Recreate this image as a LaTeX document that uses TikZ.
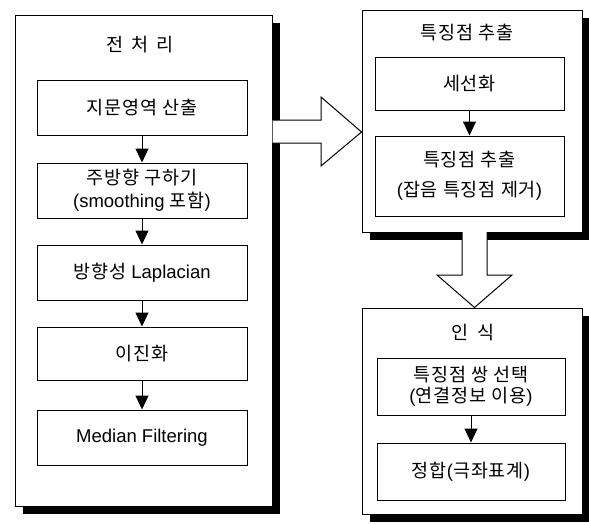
\documentclass[tikz,border=0pt]{standalone}
\usepackage{fontspec}
\setmainfont{Liberation Sans}
\newfontfamily\ko[LetterSpace=5]{Noto Sans CJK KR}
\usetikzlibrary{shadows,arrows.meta,calc}
\begin{document}
\begin{tikzpicture}[x=1pt,y=-1pt,
  outerbox/.style={draw,line width=1pt,fill=white,inner sep=0pt,
    drop shadow={fill=black,opacity=1,shadow xshift=7.5pt,shadow yshift=-7.5pt}},
  innerbox/.style={draw,line width=1pt,fill=white,inner sep=0pt,align=center,
    font=\fontsize{18.5}{23}\selectfont},
  titletext/.style={inner sep=0pt,font=\fontsize{18.5}{22}\selectfont},
  arr/.style={line width=1pt,-{Triangle[length=14pt,width=13pt]}},
  bigarrow/.style={draw,line width=1pt,fill=white,line join=miter}]
\useasboundingbox (0,0) rectangle (589,523);
% outer boxes
\node[outerbox,minimum width=257pt,minimum height=491pt] (L) at (143.5,260.5) {};
\node[outerbox,minimum width=220pt,minimum height=222pt] (T) at (472,121) {};
\node[outerbox,minimum width=220pt,minimum height=206pt] (B) at (472,411) {};
% big arrows
\draw[bigarrow] (L.east |- 0,120) -- (321,120) -- (321,97) -- (T.west |- 0,132)
  -- (321,166) -- (321,143) -- (L.east |- 0,143);
\draw[bigarrow] (462,232) -- (462,275) -- (437,275) -- (B.north -| 474.5,0)
  -- (512,275) -- (487,275) -- (487,232);
% titles
\node[titletext] (Lt) at (140,45) {\ko 전 \,처 \,리};
\node[titletext] (Tt) at (467,33) {\ko 특징점 추출};
\node[titletext] (Bt) at (473,333) {\ko 인 \,식};
% left inner boxes
\node[innerbox,minimum width=210pt,minimum height=55pt] (l1) at (142,107.5) {\ko 지문영역 산출};
\node[innerbox,minimum width=210pt,minimum height=55pt] (l2) at (142,190.5) {\ko 주방향 구하기\\(smoothing {\ko 포함})};
\node[innerbox,minimum width=210pt,minimum height=55pt] (l3) at (142,272.5) {{\ko 방향성} Laplacian};
\node[innerbox,minimum width=210pt,minimum height=53pt] (l4) at (142,353.5) {\ko 이진화};
\node[innerbox,minimum width=210pt,minimum height=55pt] (l5) at (142,437.5) {Median Filtering};
% top right inner boxes
\node[innerbox,minimum width=189pt,minimum height=53pt] (t1) at (469.5,83.5) {\ko 세선화};
\node[innerbox,minimum width=189pt,minimum height=80pt,font=\fontsize{18.5}{30}\selectfont] (t2) at (469.5,176) {{\ko 특징점 추출}\\({\ko 잡음 특징점 제거})};
% bottom right inner boxes
\node[innerbox,minimum width=188pt,minimum height=57pt,font=\fontsize{18.5}{21}\selectfont] (b1) at (471,386.5) {{\ko 특징점 쌍 선택}\\({\ko 연결정보 이용})};
\node[innerbox,minimum width=188pt,minimum height=57pt] (b2) at (471,471.5) {{\ko 정합}({\ko 극좌표계})};
% connectors
\draw[arr] (l1) -- (l2);
\draw[arr] (l2) -- (l3);
\draw[arr] (l3) -- (l4);
\draw[arr] (l4) -- (l5);
\draw[arr] (t1) -- (t2);
\draw[arr] (b1) -- (b2);
\end{tikzpicture}
\end{document}
